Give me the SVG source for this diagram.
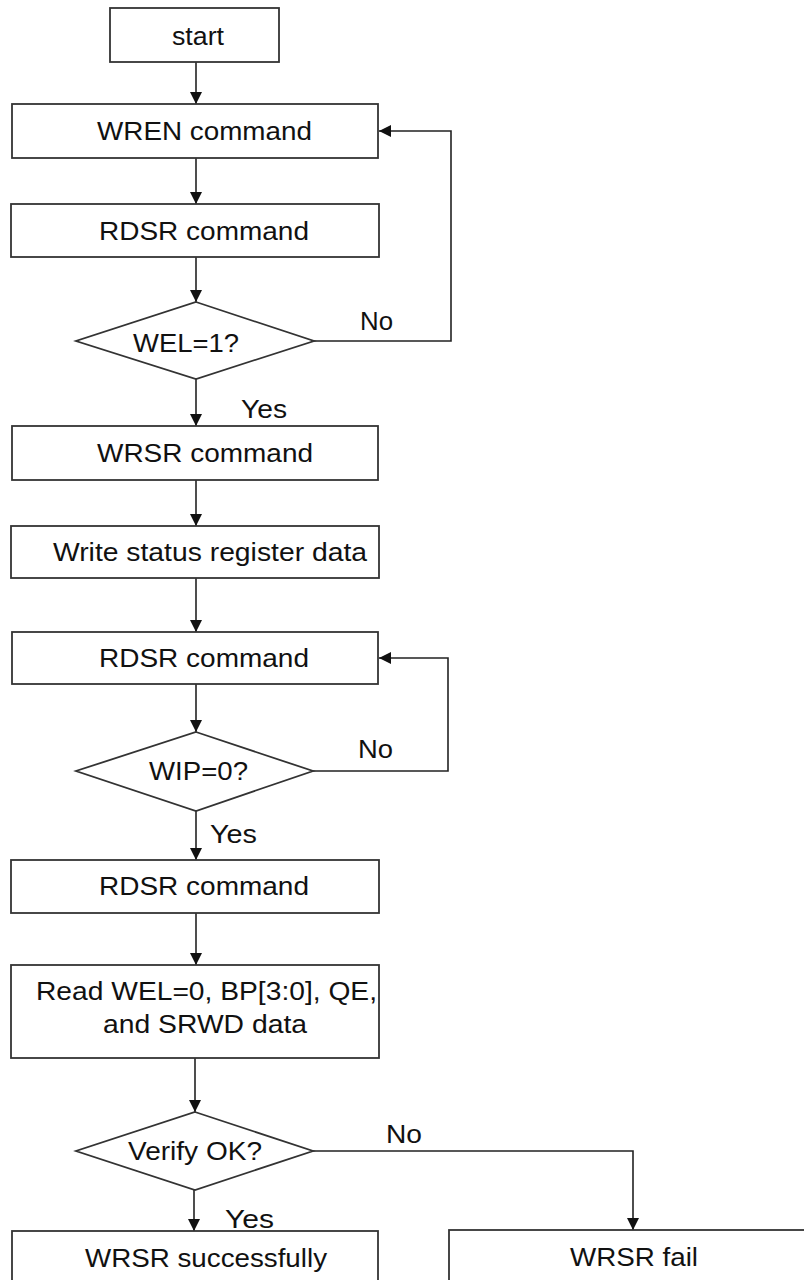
<svg xmlns="http://www.w3.org/2000/svg" width="804" height="1280" viewBox="0 0 804 1280">
<defs>
<style>
.box{fill:#fff;stroke:#333;stroke-width:1.8}
.t{font-family:"Liberation Sans",Arial,sans-serif;font-size:25px;fill:#111}
.c{text-anchor:middle}
.ln{fill:none;stroke:#222;stroke-width:1.6}
</style>
<marker id="ah" viewBox="0 0 10 10" refX="10" refY="5" markerWidth="12" markerHeight="12" markerUnits="userSpaceOnUse" orient="auto">
<path d="M0,0 L10,5 L0,10 z" fill="#111"/>
</marker>
</defs>
<rect width="804" height="1280" fill="#fff"/>
<g id="connectors">
<line class="ln" x1="196" y1="62" x2="196" y2="104" marker-end="url(#ah)"/>
<line class="ln" x1="196" y1="158" x2="196" y2="204" marker-end="url(#ah)"/>
<line class="ln" x1="196" y1="257" x2="196" y2="302" marker-end="url(#ah)"/>
<polyline class="ln" points="314,341 451,341 451,131 379,131" marker-end="url(#ah)"/>
<line class="ln" x1="196" y1="379" x2="196" y2="426" marker-end="url(#ah)"/>
<line class="ln" x1="196" y1="480" x2="196" y2="526" marker-end="url(#ah)"/>
<line class="ln" x1="196" y1="578" x2="196" y2="632" marker-end="url(#ah)"/>
<line class="ln" x1="196" y1="684" x2="196" y2="732" marker-end="url(#ah)"/>
<polyline class="ln" points="313,771 448,771 448,658 379,658" marker-end="url(#ah)"/>
<line class="ln" x1="196" y1="811" x2="196" y2="860" marker-end="url(#ah)"/>
<line class="ln" x1="196" y1="913" x2="196" y2="965" marker-end="url(#ah)"/>
<line class="ln" x1="195" y1="1058" x2="195" y2="1112" marker-end="url(#ah)"/>
<polyline class="ln" points="313,1151 633,1151 633,1230" marker-end="url(#ah)"/>
<line class="ln" x1="194" y1="1190" x2="194" y2="1231" marker-end="url(#ah)"/>
<text class="t" x="360" y="330" textLength="33" lengthAdjust="spacingAndGlyphs">No</text>
<text class="t" x="241" y="418" textLength="46" lengthAdjust="spacingAndGlyphs">Yes</text>
<text class="t" x="358" y="758" textLength="35" lengthAdjust="spacingAndGlyphs">No</text>
<text class="t" x="210" y="843" textLength="47" lengthAdjust="spacingAndGlyphs">Yes</text>
<text class="t" x="386" y="1143" textLength="36" lengthAdjust="spacingAndGlyphs">No</text>
<text class="t" x="225" y="1228" textLength="49" lengthAdjust="spacingAndGlyphs">Yes</text>
</g>
<g id="start">
<rect class="box" x="110" y="8" width="169" height="54"/>
<text class="t" x="172" y="45" textLength="52" lengthAdjust="spacingAndGlyphs">start</text>
</g>
<g id="wren">
<rect class="box" x="12" y="104" width="366" height="54"/>
<text class="t" x="97" y="140" textLength="215" lengthAdjust="spacingAndGlyphs">WREN command</text>
</g>
<g id="rdsr1">
<rect class="box" x="11" y="204" width="368" height="53"/>
<text class="t" x="99" y="240" textLength="210" lengthAdjust="spacingAndGlyphs">RDSR command</text>
</g>
<g id="wel">
<polygon class="box" points="196,302 314,341 196,379 76,341"/>
<text class="t" x="133" y="352" textLength="106" lengthAdjust="spacingAndGlyphs">WEL=1?</text>
</g>
<g id="wrsr">
<rect class="box" x="12" y="426" width="366" height="54"/>
<text class="t" x="97" y="462" textLength="216" lengthAdjust="spacingAndGlyphs">WRSR command</text>
</g>
<g id="write">
<rect class="box" x="11" y="526" width="368" height="52"/>
<text class="t" x="53" y="561" textLength="314" lengthAdjust="spacingAndGlyphs">Write status register data</text>
</g>
<g id="rdsr2">
<rect class="box" x="12" y="632" width="366" height="52"/>
<text class="t" x="99" y="667" textLength="210" lengthAdjust="spacingAndGlyphs">RDSR command</text>
</g>
<g id="wip">
<polygon class="box" points="196,732 313,771 196,811 76,771"/>
<text class="t" x="149" y="780" textLength="99" lengthAdjust="spacingAndGlyphs">WIP=0?</text>
</g>
<g id="rdsr3">
<rect class="box" x="11" y="860" width="368" height="53"/>
<text class="t" x="99" y="895" textLength="210" lengthAdjust="spacingAndGlyphs">RDSR command</text>
</g>
<g id="read">
<rect class="box" x="11" y="965" width="368" height="93"/>
<text class="t" x="36" y="1000" textLength="341" lengthAdjust="spacingAndGlyphs">Read WEL=0, BP[3:0], QE,</text>
<text class="t" x="103" y="1033" textLength="204" lengthAdjust="spacingAndGlyphs">and SRWD data</text>
</g>
<g id="verify">
<polygon class="box" points="195,1112 313,1151 195,1190 76,1151"/>
<text class="t" x="128" y="1160" textLength="134" lengthAdjust="spacingAndGlyphs">Verify OK?</text>
</g>
<g id="success">
<rect class="box" x="12" y="1231" width="366" height="60"/>
<text class="t" x="85" y="1267" textLength="242" lengthAdjust="spacingAndGlyphs">WRSR successfully</text>
</g>
<g id="fail">
<rect class="box" x="449" y="1230" width="370" height="60"/>
<text class="t" x="570" y="1266" textLength="128" lengthAdjust="spacingAndGlyphs">WRSR fail</text>
</g>
</svg>
